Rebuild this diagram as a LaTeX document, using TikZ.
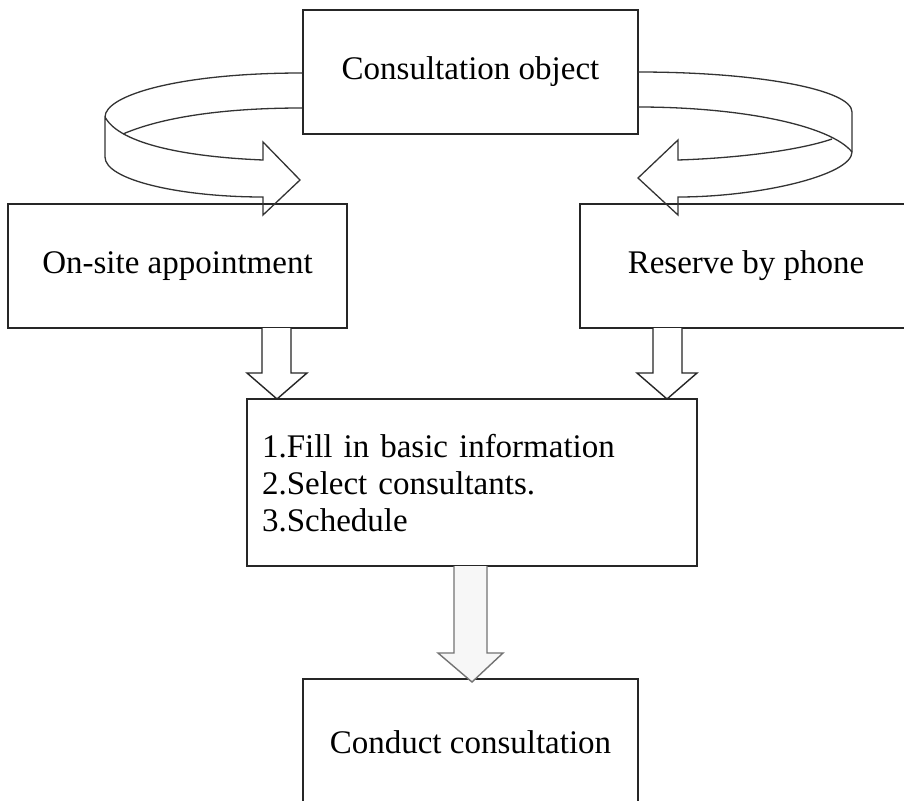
\documentclass[tikz,border=0pt]{standalone}
\usepackage{fontspec}
\setmainfont{Liberation Serif}
\begin{document}
\begin{tikzpicture}[x=1pt,y=-1pt,
  box/.style={draw=black!85, line width=1.4pt, fill=white, font=\fontsize{33}{37}\selectfont, inner sep=0pt},
  ribbon/.style={draw=black!80, line width=1.3pt, line join=miter},
  blockarrow/.style={draw=black!85, line width=1.4pt, fill=white, line join=miter}]
\useasboundingbox (0,0) rectangle (904,800);
\fill[white] (0,0) rectangle (904,800);

% boxes
\node[box, minimum width=335pt, minimum height=124pt] (top) at (470.5,72) {Consultation object};
\node[box, minimum width=339pt, minimum height=124pt] (onsite) at (177.5,266) {On-site appointment};
\node[box, minimum width=326pt, minimum height=124pt] (reserve) at (743,266) {\hspace{6pt}Reserve by phone};
\node[box, minimum width=450pt, minimum height=167pt, text width=420pt, inner xsep=15pt] (mid) at (472,482.5)
  {\raisebox{-5pt}[\height][\depth]{\begin{tabular}{@{}l@{}}1.Fill in basic information\\2.Select consultants.\\3.Schedule\end{tabular}}};
\node[box, minimum width=335pt, minimum height=127pt] (conduct) at (470.5,742.5) {Conduct consultation};

% left curved ribbon arrow (top -> onsite)
\draw[ribbon] (302,73) .. controls (180,73) and (105,95) .. (105,117) -- (105,157)
  .. controls (105,180) and (180,197) .. (263,197) -- (263,215) -- (300,180) -- (263,142) -- (263,160)
  .. controls (190,157) and (120,145) .. (105,117);
\draw[ribbon] (302,108) .. controls (220,108) and (160,118) .. (123,134);

% right curved ribbon arrow (top -> reserve)
\draw[ribbon] (638,72) .. controls (760,72) and (852,90) .. (852,112) -- (852,152)
  .. controls (852,175) and (760,197) .. (678,197) -- (678,215) -- (638,178) -- (678,140) -- (678,160)
  .. controls (740,158) and (800,150) .. (832,139);
\draw[ribbon] (638,107) .. controls (740,107) and (830,125) .. (852,152);

% block arrows down
\draw[blockarrow] (262,328) -- (262,373) -- (247,373) -- (277,399) -- (307,373) -- (291,373) -- (291,328);
\draw[blockarrow] (653,328) -- (653,373) -- (637,373) -- (667,399) -- (697,373) -- (682,373) -- (682,328);
\draw[blockarrow, draw=black!55, fill=black!3] (454,566) -- (454,653) -- (438,653) -- (472,682) -- (503,653) -- (487,653) -- (487,566);
\end{tikzpicture}
\end{document}
